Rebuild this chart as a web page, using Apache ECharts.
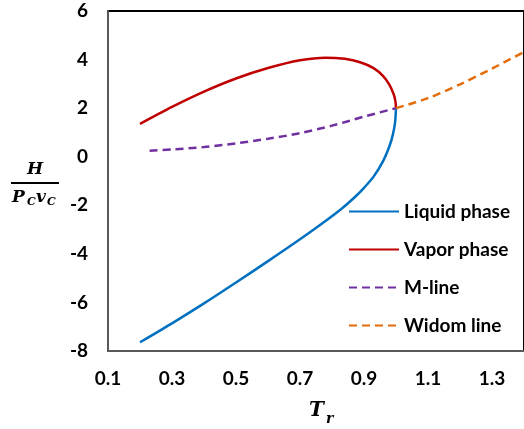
<!DOCTYPE html>
<html>
<head>
<meta charset="utf-8">
<script src="https://cdn.jsdelivr.net/npm/echarts@6/dist/echarts.min.js"></script>
<style>
  html, body { margin: 0; padding: 0; background: #fff; }
  #chart { width: 524px; height: 429px; }
</style>
</head>
<body>
<div id="chart"></div>
<script>
// values (Tr, H / PcVc)
const liquidTr = [0.2, 0.3, 0.4, 0.5, 0.6, 0.7, 0.77, 0.83, 0.87, 0.9, 0.93, 0.96, 0.98, 0.99, 0.997, 1.0]
const liquidH = [-7.64, -6.86, -6.04, -5.18, -4.3, -3.4, -2.74, -2.14, -1.68, -1.28, -0.82, -0.17, 0.45, 0.9, 1.4, 2.0]
const vaporTr = [0.2, 0.3, 0.4, 0.5, 0.6, 0.7, 0.78, 0.84, 0.89, 0.93, 0.96, 0.98, 0.992, 0.998, 1.0]
const vaporH = [1.35, 2.05, 2.68, 3.22, 3.65, 3.97, 4.08, 4.03, 3.88, 3.65, 3.32, 2.95, 2.6, 2.3, 2.0]
const mlineTr = [0.23, 0.3, 0.4, 0.5, 0.6, 0.7, 0.8, 0.9, 1.0]
const mlineH = [0.25, 0.3, 0.4, 0.55, 0.74, 0.97, 1.28, 1.65, 2.0]
const widomTr = [1.0, 1.1, 1.2, 1.3, 1.4]
const widomH = [2.0, 2.41, 2.98, 3.63, 4.31]

const pairs = (xs, ys) => xs.map((x, i) => [x, ys[i]])

const dom = document.querySelector('#chart')
const chart = echarts.init(dom)
const labelFont = { fontFamily: 'Lato', fontWeight: 'bold', fontSize: 19, color: '#000' }
const mathFont = { fontFamily: 'DejaVu Serif', fontStyle: 'italic', fontWeight: 'bold', fill: '#000' }
const mathText = (text, left, top, size) => ({
  type: 'text', left, top,
  style: Object.assign({ text, fontSize: size }, mathFont)
})

const option = {
  animation: false,
  grid: {
    left: 108, top: 11, right: -2, bottom: 78,
    show: true, borderColor: '#000', borderWidth: 2
  },
  xAxis: {
    type: 'value',
    min: 0.1,
    max: 1.4,
    interval: 0.2,
    axisLine: { onZero: false, lineStyle: { color: '#595959', width: 2 } },
    axisTick: { show: false },
    splitLine: { show: false },
    axisLabel: Object.assign({ margin: 18, showMaxLabel: false, formatter: v => v.toFixed(1) }, labelFont)
  },
  yAxis: {
    type: 'value',
    min: -8,
    max: 6,
    interval: 2,
    axisLine: { show: true, onZero: false, lineStyle: { color: '#595959', width: 2 } },
    axisTick: { show: false },
    splitLine: { show: false },
    axisLabel: Object.assign({ margin: 20 }, labelFont)
  },
  legend: {
    orient: 'vertical',
    left: 348,
    top: 202,
    padding: 0,
    itemWidth: 50,
    itemHeight: 16,
    itemGap: 19,
    itemStyle: { opacity: 0 },
    textStyle: Object.assign({ lineHeight: 19 }, labelFont),
    data: ['Liquid phase', 'Vapor phase', 'M-line', 'Widom line']
  },
  series: [
    {
      name: 'Liquid phase',
      type: 'line',
      data: pairs(liquidTr, liquidH),
      smooth: 0.3,
      symbol: 'none',
      lineStyle: { color: '#0070C0', width: 2.5 },
      itemStyle: { color: '#0070C0' }
    },
    {
      name: 'Vapor phase',
      type: 'line',
      data: pairs(vaporTr, vaporH),
      smooth: 0.3,
      symbol: 'none',
      lineStyle: { color: '#C00000', width: 2.5 },
      itemStyle: { color: '#C00000' }
    },
    {
      name: 'M-line',
      type: 'line',
      data: pairs(mlineTr, mlineH),
      smooth: 0.3,
      symbol: 'none',
      lineStyle: { color: '#7030A0', width: 2.5, type: [8, 5] },
      itemStyle: { color: '#7030A0' }
    },
    {
      name: 'Widom line',
      type: 'line',
      data: pairs(widomTr, widomH),
      smooth: 0.3,
      symbol: 'none',
      lineStyle: { color: '#E46C0A', width: 2.5, type: [8, 5] },
      itemStyle: { color: '#E46C0A' }
    }
  ],
  graphic: [
    // y axis title: H over Pc vc
    mathText('H', 27, 161, 17),
    {
      type: 'line', shape: { x1: 11, y1: 183, x2: 59, y2: 183 },
      style: { stroke: '#000', lineWidth: 2 }
    },
    mathText('P', 12, 189, 17),
    mathText('C', 27, 197, 11),
    mathText('v', 36, 189, 17),
    mathText('C', 47, 197, 11),
    // x axis title: Tr
    mathText('T', 309, 401, 20),
    mathText('r', 326, 412, 14)
  ]
}
chart.setOption(option)
</script>
</body>
</html>
